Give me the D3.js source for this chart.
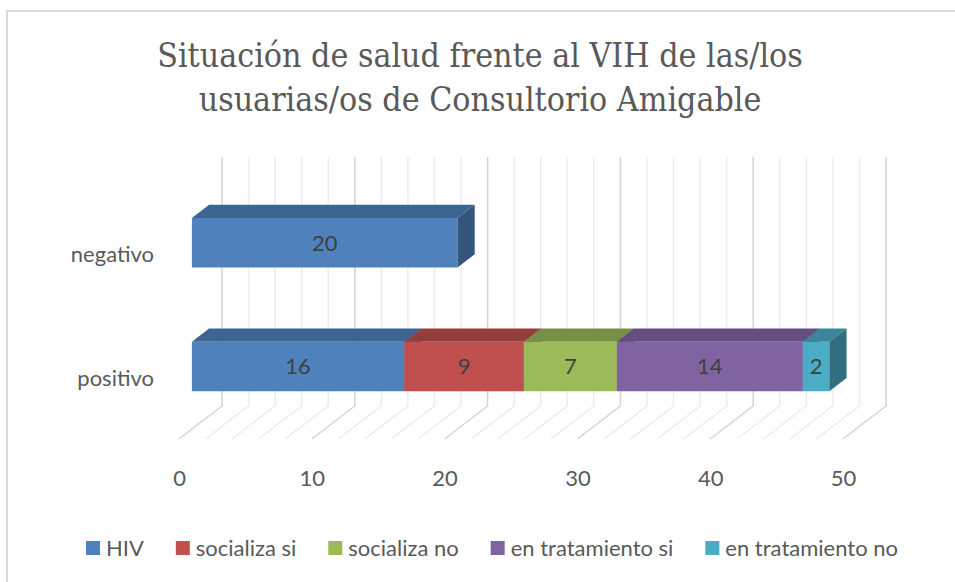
<!DOCTYPE html>
<html>
<head>
<meta charset="utf-8">
<script src="https://cdn.jsdelivr.net/npm/d3@7"></script>
<style>
  html, body { margin: 0; padding: 0; background: #fff; }
  svg { display: block; }
</style>
</head>
<body>
<svg id="chart" width="955" height="582"></svg>
<script>
// ---- data ----
const titleLines = ["Situación de salud frente al VIH de las/los", "usuarias/os de Consultorio Amigable"];
const categories = ["negativo", "positivo"];
const seriesNames = ["HIV", "socializa si", "socializa no", "en tratamiento si", "en tratamiento no"];
const hivValues = [20, 16];
const socializaSiValues = [0, 9];
const socializaNoValues = [0, 7];
const tratamientoSiValues = [0, 14];
const tratamientoNoValues = [0, 2];
const axisTicks = [0, 10, 20, 30, 40, 50];
const seriesColors = ["#4F81BD", "#C0504D", "#9BBB59", "#8064A2", "#4BACC6"];
const topColors = ["#3D6591", "#943E3C", "#778F45", "#634E7E", "#3A8598"];
const sideColors = ["#34567C", "#7E3533", "#66793B", "#54426B", "#316F80"];

const seriesValues = [hivValues, socializaSiValues, socializaNoValues, tratamientoSiValues, tratamientoNoValues];
const rows = categories.map((c, i) => {
  const r = { category: c };
  seriesNames.forEach((s, j) => r[s] = seriesValues[j][i]);
  return r;
});

const svg = d3.select("#chart");
const textColor = "#595959";
const sansFont = "Lato, 'Open Sans', sans-serif";
const fsLabel = 22;

// outer border
svg.append("rect").attr("x", 7).attr("y", 11).attr("width", 1000).attr("height", 1000)
  .attr("fill", "none").attr("stroke", "#d9d9d9").attr("stroke-width", 2);

// title
const title = svg.append("g");
const titleText = titleLines.map((t, i) => title.append("text")
  .attr("x", 480).attr("y", 67 + i * 44).attr("text-anchor", "middle")
  .attr("font-family", "'DejaVu Serif Condensed', 'DejaVu Serif', serif")
  .style("font-stretch", "condensed").attr("font-size", 30)
  .attr("fill", textColor).text(t));
const w0 = titleText[0].node().getComputedTextLength();
const fs = Math.min(36, 30 * 646 / w0);
titleText.forEach(t => t.attr("font-size", fs));

// scales (front floor plane coordinates)
const x = d3.scaleLinear().domain([0, 50]).range([179, 843]);
const y = d3.scaleBand().domain(categories).range([190, 439]).paddingInner(0.6).paddingOuter(0.306);
const DX = 43, DY = 33;
const zF = 0.3, zB = 0.7;
const P = (v, yy, z) => [x(v) + z * DX, yy - z * DY];

// back wall gridlines + floor lines
const grid = svg.append("g");
x.ticks(25).forEach(t => {
  const major = t % 10 === 0;
  const col = major ? "#d4d4d4" : "#ececec";
  const [bx, by] = P(t, 439, 1);
  const [tx, ty] = P(t, 190, 1);
  const [fx, fy] = P(t, 439, 0);
  grid.append("path")
    .attr("d", `M${tx},${ty}L${bx},${by}L${fx},${fy}`)
    .attr("fill", "none").attr("stroke", col).attr("stroke-width", 1.5);
});

// stacked bars
const stack = d3.stack().keys(seriesNames)(rows);
const bars = svg.append("g");
const labels = svg.append("g");
const bw = y.bandwidth();
categories.forEach((c, ci) => {
  stack.forEach((s, si) => {
    const d = s[ci];
    const v0 = d[0], v1 = d[1];
    if (v1 - v0 <= 0) return;
    const y0 = y(c), y1 = y(c) + bw;
    const a = P(v0, y0, zF), b = P(v1, y0, zF), bB = P(v1, y0, zB), aB = P(v0, y0, zB);
    const cBot = P(v1, y1, zF), cBotB = P(v1, y1, zB), aBot = P(v0, y1, zF);
    bars.append("polygon").attr("points", [a, b, bB, aB].map(p => p.join(",")).join(" "))
      .attr("fill", topColors[si]);
    bars.append("polygon").attr("points", [a, b, cBot, aBot].map(p => p.join(",")).join(" "))
      .attr("fill", seriesColors[si]);
    bars.append("polygon").attr("points", [b, bB, cBotB, cBot].map(p => p.join(",")).join(" "))
      .attr("fill", sideColors[si]);
    labels.append("text")
      .attr("x", (a[0] + b[0]) / 2).attr("y", (a[1] + aBot[1]) / 2).attr("dy", "0.36em")
      .attr("text-anchor", "middle").attr("font-family", sansFont).attr("font-size", fsLabel)
      .attr("fill", "#404040").text(v1 - v0);
  });
});

// axes
const xAxis = svg.append("g").attr("transform", "translate(0,470)")
  .call(d3.axisBottom(x).tickValues(axisTicks).tickSize(0).tickPadding(0));
xAxis.select(".domain").remove();
xAxis.selectAll("text").attr("font-family", sansFont).attr("font-size", fsLabel).attr("fill", textColor);

const yAxis = svg.append("g").attr("transform", "translate(160,0)")
  .call(d3.axisLeft(y).tickSize(0).tickPadding(6));
yAxis.select(".domain").remove();
yAxis.selectAll("text").attr("font-family", sansFont).attr("font-size", fsLabel).attr("fill", textColor)
  .attr("dy", "0.43em");

// legend
const legend = svg.append("g");
const legendLeft = 86, legendRight = 898;
const groups = seriesNames.map((n, i) => {
  const g = legend.append("g");
  g.append("rect").attr("x", 0).attr("y", 541).attr("width", 14).attr("height", 14).attr("fill", seriesColors[i]);
  const t = g.append("text").attr("x", 20).attr("y", 548).attr("dy", "0.36em")
    .attr("font-family", sansFont).attr("font-size", fsLabel).attr("fill", textColor).text(n);
  return { g, w: 20 + t.node().getComputedTextLength() };
});
const sumW = d3.sum(groups, d => d.w);
const gap = (legendRight - legendLeft - sumW) / (groups.length - 1);
let cx = legendLeft;
groups.forEach(d => { d.g.attr("transform", `translate(${cx},0)`); cx += d.w + gap; });
</script>
</body>
</html>
